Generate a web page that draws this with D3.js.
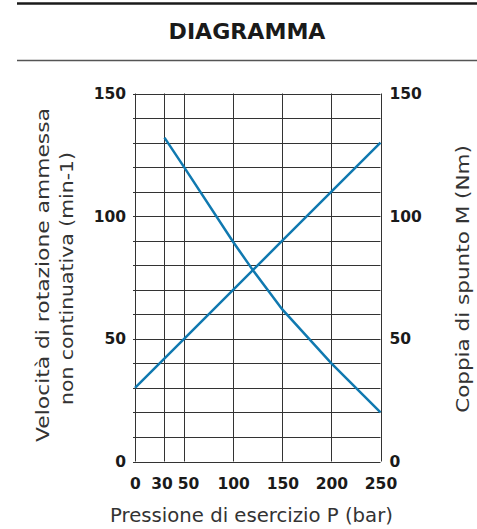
<!DOCTYPE html>
<html><head><meta charset="utf-8">
<script src="https://cdn.jsdelivr.net/npm/d3@7"></script>
<style>body{margin:0;background:#fff}svg{display:block}</style>
</head><body>
<svg id="c" width="477" height="529"></svg>
<script>
const title = "DIAGRAMMA";
const xTicks = [0, 30, 50, 100, 150, 200, 250];
const yTicks = [0, 50, 100, 150];
const yGrid = [0,10,20,30,40,50,60,70,80,90,100,110,120,130,140,150];
const speedP = [30, 50, 100, 120, 150, 200, 250];
const speedV = [132, 120, 89.5, 78, 62, 40, 20];
const torqueP = [0, 50, 150, 200, 250];
const torqueV = [30, 50, 90, 110, 130];
const xLabel = "Pressione di esercizio P (bar)";
const yLabelL = ["Velocità di rotazione ammessa", "non continuativa (min-1)"];
const yLabelR = "Coppia di spunto M (Nm)";

const svg = d3.select("#c");
const font = "'DejaVu Sans', sans-serif";
const m = {l:135, r:380.5, t:93.5, b:461.5};
const x = d3.scaleLinear().domain([0,250]).range([m.l, m.r]);
const y = d3.scaleLinear().domain([0,150]).range([m.b, m.t]);

// stretched text: places centred text at (cx,cy) with rotation, scaled along its baseline to a target width
function stretched(str, cx, cy, rot, size, target, opts={}){
  const t = svg.append("text").attr("text-anchor","middle")
    .attr("font-family",font).attr("font-size",size).attr("fill",opts.fill||"#333")
    .attr("font-weight",opts.weight||400).text(str);
  const len = t.node().getComputedTextLength();
  const s = target/len;
  t.attr("transform",`translate(${cx},${cy}) rotate(${rot}) scale(${s.toFixed(3)},1)`);
  return t;
}

// header
svg.append("line").attr("x1",17).attr("x2",477).attr("y1",3.5).attr("y2",3.5).attr("stroke","#1a1a1a").attr("stroke-width",2.5);
stretched(title, 247, 38.5, 0, 20.5, 157, {weight:700, fill:"#1a1a1a"});
svg.append("line").attr("x1",17).attr("x2",477).attr("y1",60.5).attr("y2",60.5).attr("stroke","#555").attr("stroke-width",1.5);

// grid
const g = svg.append("g");
g.selectAll(".h").data(yGrid).join("line")
  .attr("x1",m.l-2).attr("x2",m.r).attr("y1",d=>Math.round(y(d))+0.5).attr("y2",d=>Math.round(y(d))+0.5)
  .attr("stroke","#333").attr("stroke-width",1);
g.selectAll(".v").data(xTicks).join("line")
  .attr("x1",d=>Math.round(x(d))+0.5).attr("x2",d=>Math.round(x(d))+0.5).attr("y1",m.t).attr("y2",m.b)
  .attr("stroke","#333").attr("stroke-width",1);

// axes labels via d3 axes
const axL = svg.append("g").attr("transform",`translate(${m.l-6},0)`).call(d3.axisLeft(y).tickValues(yTicks).tickSize(0));
const axR = svg.append("g").attr("transform",`translate(${m.r+6},0)`).call(d3.axisRight(y).tickValues(yTicks).tickSize(0));
const axB = svg.append("g").attr("transform",`translate(0,${m.b+13})`).call(d3.axisBottom(x).tickValues(xTicks).tickSize(0));
[axL,axR,axB].forEach(a=>{
  a.select(".domain").remove();
  a.selectAll("text").attr("font-family",font).attr("font-weight",700).attr("font-size",15.5).attr("fill","#1a1a1a");
});
const nudge = {30:-3, 50:4};
axB.selectAll("text").attr("dx", d => nudge[d] || 0);

// lines
const line = d3.line().x(d=>x(d[0])).y(d=>y(d[1]));
const col = "#1079b0";
svg.append("path").datum(torqueP.map((p,i)=>[p,torqueV[i]])).attr("d",line)
  .attr("fill","none").attr("stroke",col).attr("stroke-width",2.5);
svg.append("path").datum(speedP.map((p,i)=>[p,speedV[i]])).attr("d",line)
  .attr("fill","none").attr("stroke",col).attr("stroke-width",2.5);

// axis titles
stretched(xLabel, 251.5, 521.5, 0, 19, 283);
stretched(yLabelL[0], 49, 275, -90, 18, 334);
stretched(yLabelL[1], 73, 278.5, -90, 18, 253);
stretched(yLabelR, 469, 279, -90, 18, 268);
</script>
</body></html>
